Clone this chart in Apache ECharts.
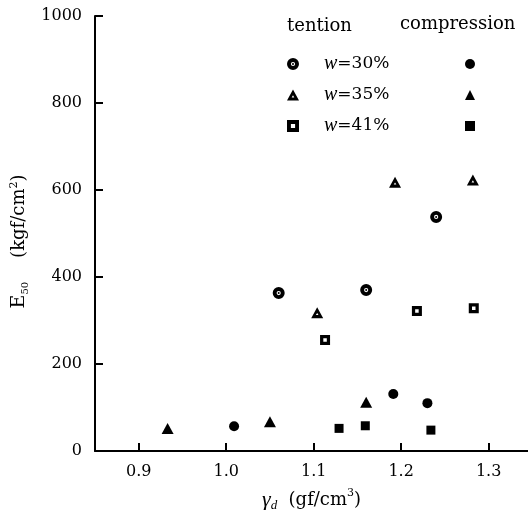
<!DOCTYPE html>
<html>
<head>
<meta charset="utf-8">
<script src="https://cdn.jsdelivr.net/npm/echarts@6/dist/echarts.min.js"></script>
<style>
  html, body { margin: 0; padding: 0; background: #fff; }
  #main { width: 528px; height: 510px; }
</style>
</head>
<body>
<div id="main"></div>
<script>
var chartDom = document.getElementById('main');
var myChart = echarts.init(chartDom);
var option;

// Data: [gamma_d, E50]
const tension30 = [[1.06, 363], [1.16, 370], [1.24, 538]];
const tension35 = [[1.104, 318], [1.193, 618], [1.282, 623]];
const tension41 = [[1.113, 255], [1.218, 322], [1.283, 328]];
const comp30 = [[1.009, 57], [1.191, 131], [1.230, 110]];
const comp35 = [[0.933, 52], [1.05, 67], [1.16, 112]];
const comp41 = [[1.129, 52], [1.159, 58], [1.234, 48]];

const xTicks = [0.9, 1.0, 1.1, 1.2, 1.3];
const yTicks = [0, 200, 400, 600, 800, 1000];
const moisture = ['w=30%', 'w=35%', 'w=41%'];

// open symbols (hole punched with reverse winding)
const ringDot = 'path://M10,0A10,10 0 1,1 10,20A10,10 0 1,1 10,0ZM10,6.5A3.5,3.5 0 1,0 10,13.5A3.5,3.5 0 1,0 10,6.5ZM10,8.3A1.7,1.7 0 1,1 10,11.7A1.7,1.7 0 1,1 10,8.3Z';
const openTri = 'path://M10,0L20,18L0,18ZM10,9.5L7.8,13L12.2,13Z';
const openSq = 'path://M0,0H20V20H0ZM6.5,6.5V13.5H13.5V6.5Z';

const serif = 'DejaVu Serif';

function scatter(name, data, symbol, size) {
  return {
    name: name,
    type: 'scatter',
    data: data,
    symbol: symbol,
    symbolSize: size,
    itemStyle: { color: '#000', opacity: 1 },
    emphasis: { disabled: true }
  };
}

option = {
  backgroundColor: '#fff',
  animation: false,
  grid: { left: 95, right: 0, top: 16, bottom: 59, outerBoundsMode: 'none', containLabel: false },
  graphic: [
    { type: 'text', left: 287, top: 17, style: { text: 'tention', fontFamily: serif, fontSize: 18, fill: '#000' } },
    { type: 'text', left: 400, top: 15, style: { text: 'compression', fontFamily: serif, fontSize: 18, fill: '#000' } }
  ],
  legend: [
    {
      data: moisture,
      orient: 'vertical',
      left: 282,
      top: 49,
      itemWidth: 12,
      itemHeight: 12,
      itemGap: 11,
      selectedMode: false,
      formatter: function (n) { return '{i|w}' + n.slice(1); },
      textStyle: {
        fontFamily: serif, fontSize: 17, color: '#000', lineHeight: 20,
        rich: { i: { fontFamily: 'Liberation Serif', fontStyle: 'italic', fontSize: 20, padding: [0, 0, 0, 20] } }
      }
    },
    {
      data: moisture.map(function (m) { return m + ' compression'; }),
      orient: 'vertical',
      left: 460,
      top: 49,
      itemWidth: 10,
      itemHeight: 10,
      itemGap: 11,
      selectedMode: false,
      formatter: function () { return ' '; },
      textStyle: { fontFamily: serif, fontSize: 17, lineHeight: 20 }
    }
  ],
  xAxis: {
    type: 'value',
    min: 0.85,
    max: 1.345,
    name: '{g|γ}{d|d}  (gf/cm{p|3})',
    nameLocation: 'middle',
    nameGap: 37,
    nameTextStyle: {
      fontFamily: serif, fontSize: 18, color: '#000', lineHeight: 24,
      rich: {
        g: { fontFamily: 'Liberation Serif', fontStyle: 'italic', fontSize: 22, lineHeight: 24 },
        d: { fontFamily: 'Liberation Serif', fontStyle: 'italic', fontSize: 13, lineHeight: 10, verticalAlign: 'bottom' },
        p: { fontFamily: serif, fontSize: 11, lineHeight: 10, verticalAlign: 'top' }
      }
    },
    splitLine: { show: false },
    axisLine: { onZero: false, lineStyle: { color: '#000', width: 2 } },
    axisTick: { inside: true, length: 8, customValues: xTicks, lineStyle: { color: '#000', width: 2 } },
    axisLabel: {
      customValues: xTicks,
      margin: 13,
      fontFamily: serif, fontSize: 16, color: '#000',
      formatter: function (v) { return v.toFixed(1); }
    }
  },
  yAxis: {
    type: 'value',
    min: 0,
    max: 1000,
    interval: 200,
    name: '{e|E}{s|50}(kgf/cm{p|2})',
    nameLocation: 'middle',
    nameGap: 63,
    nameRotate: 90,
    nameTextStyle: {
      fontFamily: serif, fontSize: 18, color: '#000', lineHeight: 22,
      padding: [0, 16, 0, 0],
      rich: {
        e: { fontFamily: serif, fontSize: 19, lineHeight: 22 },
        s: { fontFamily: serif, fontSize: 10, lineHeight: 10, verticalAlign: 'bottom', padding: [0, 24, 0, 0] },
        p: { fontFamily: serif, fontSize: 11, lineHeight: 10, verticalAlign: 'top' }
      }
    },
    splitLine: { show: false },
    axisLine: { show: true, lineStyle: { color: '#000', width: 2 } },
    axisTick: { show: true, inside: true, length: 8, customValues: yTicks, lineStyle: { color: '#000', width: 2 } },
    axisLabel: {
      customValues: yTicks, margin: 13, fontFamily: serif, fontSize: 16, color: '#000',
      formatter: function (v) { return String(v); }
    }
  },
  series: [
    scatter(moisture[0], tension30, ringDot, 12),
    scatter(moisture[1], tension35, openTri, [12, 11]),
    scatter(moisture[2], tension41, openSq, 10),
    scatter(moisture[0] + ' compression', comp30, 'circle', 10),
    scatter(moisture[1] + ' compression', comp35, 'triangle', [12, 11]),
    scatter(moisture[2] + ' compression', comp41, 'rect', 9)
  ]
};

option && myChart.setOption(option);
</script>
</body>
</html>
